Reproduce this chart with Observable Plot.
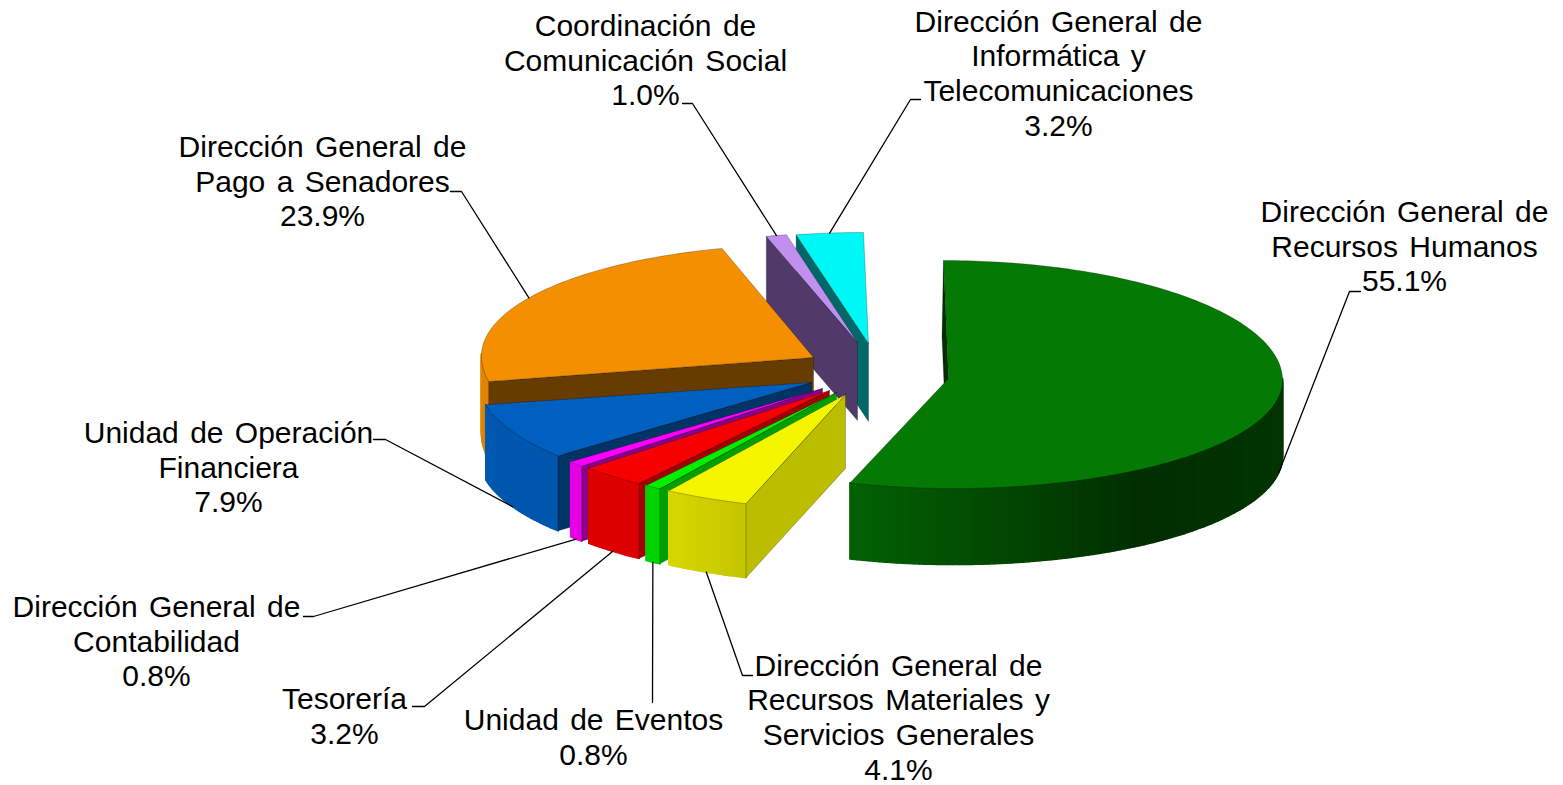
<!DOCTYPE html>
<html><head><meta charset="utf-8">
<script src="https://cdn.jsdelivr.net/npm/d3@7"></script>
<script src="https://cdn.jsdelivr.net/npm/@observablehq/plot@0.6"></script>
<style>html,body{margin:0;background:#fff}svg{display:block}text{word-spacing:3px}</style>
</head><body><div id="chart"></div>
<script>
// Data
const names = ["Dirección General de\nRecursos Humanos","Dirección General de\nRecursos Materiales y\nServicios Generales","Unidad de Eventos","Tesorería","Dirección General de\nContabilidad","Unidad de Operación\nFinanciera","Dirección General de\nPago a Senadores","Coordinación de\nComunicación Social","Dirección General de\nInformática y\nTelecomunicaciones"];
const shares = [55.1,4.1,0.8,3.2,0.8,7.9,23.9,1.0,3.2];
const topColors = ["#047a04","#f5f500","#00ee00","#f70000","#ff00ff","#0060c0","#f49000","#c090f0","#00f8f8"];
const wallColors = ["#003000","#bdbd00","#00a000","#a30000","#8b008b","#003366","#663c00","#513a69","#006868"];

// Layout of the exploded 3D pie (one entry per slice)
const apexX = [948,845,836,829,822,811,813,857,868];
const apexY = [378,394,392,390,388,382,357,342,343];
const radiusRight = [334,331,331,331,331,333,332,331,338];
const radiusLeft = [328,331,331,331,331,333,332,331,338];
const radiusBack = [118,115,115,115,115,115,113,110,111];
const radiusFront = [110,115,115,115,115,115,124,115,115];
const depths = [76,74,75,75,75,75,78,78,78];
const wallLean = [-1.5,0,0,0,0,0,0,0,0];
const skew = 5;
const drawOrder = [8,7,0,6,5,4,3,2,1];
const labelX = [1404,898,593,344,156,228,322,645,1058];
const labelY = [245,716,736,715,640,466,180,59,72];
const elbowX = [1349,742,652,424,313,385,461,692,910];
const elbowY = [291,675,702,706,616,439,191,103,99];
const tailX = [1360,752,652,412,303,373,450,682,920];
const tailY = [291,675,702,706,616,439,191,103,99];

const arcs = d3.pie().sort(null).value(d => d)(shares);
const toDeg = 180 / Math.PI, toRad = Math.PI / 180;
const rimShade = d3.scaleLinear().domain([90,147,198,215,270]).range([.45,.38,.80,.89,.92]);

function rimPoint(i, deg) {
  const a = deg * toRad, s = Math.sin(a), c = Math.cos(a);
  return {
    x: apexX[i] + (s >= 0 ? radiusRight[i] : radiusLeft[i]) * s - skew * c,
    y: apexY[i] - (c >= 0 ? radiusBack[i] : radiusFront[i]) * c
  };
}
function sweep(a0, a1) {
  const out = [];
  for (let d = a0; d < a1; d += 1) out.push(d);
  out.push(a1);
  return out;
}

let pid = 0;
function addPoly(list, pts, fill, stroke) {
  const id = pid++;
  [...pts, pts[0]].forEach(p => list.push({id, x: p.x, y: p.y, fill, stroke}));
}
const sliceMarks = drawOrder.flatMap(i => {
  const a0 = arcs[i].startAngle * toDeg, a1 = arcs[i].endAngle * toDeg;
  const dep = depths[i];
  const rimP = [], topP = [], wallP = [];
  // outer rim, only on the front side, shaded by angle
  const r0 = Math.max(a0, 90), r1 = Math.min(a1, 272);
  if (r1 > r0) {
    const ds = sweep(r0, r1);
    for (let k = 0; k < ds.length - 1; k++) {
      const p = rimPoint(i, ds[k]), q = rimPoint(i, ds[k + 1]);
      const base = d3.rgb(topColors[i]), f = rimShade((ds[k] + ds[k + 1]) / 2);
      const col = d3.rgb(base.r * f, base.g * f, base.b * f).formatHex();
      addPoly(rimP, [p, q, {x: q.x, y: q.y + dep}, {x: p.x, y: p.y + dep}], col, col);
    }
  }
  // visible radial wall
  const st = rimPoint(i, a0), lean = wallLean[i];
  addPoly(wallP, [{x: apexX[i], y: apexY[i]}, st, {x: st.x + lean, y: st.y + dep}, {x: apexX[i] + lean, y: apexY[i] + dep}], wallColors[i], "#000");
  // top face
  addPoly(topP, [{x: apexX[i], y: apexY[i]}, ...sweep(a0, a1).map(d => rimPoint(i, d))], topColors[i], "#000");
  const line = (data, o) => Plot.line(data, {x: "x", y: "y", z: "id", fill: d => d.fill, stroke: d => d.stroke, ...o});
  return [
    line(rimP, {strokeWidth: 1.6, strokeLinejoin: "round"}),
    line(wallP, {strokeWidth: 0.7, strokeOpacity: 0.35}),
    line(topP, {strokeWidth: 0.7, strokeOpacity: 0.35})
  ];
});

const leaders = names.flatMap((n, i) => {
  const mid = (arcs[i].startAngle + arcs[i].endAngle) / 2 * toDeg;
  const p = rimPoint(i, mid);
  const front = Math.cos(mid * toRad) < 0;
  return [
    {id: i, x: p.x, y: p.y + (front ? depths[i] : 0)},
    {id: i, x: elbowX[i], y: elbowY[i]},
    {id: i, x: tailX[i], y: tailY[i]}
  ];
});

const labels = names.map((n, i) => ({
  text: n + "\n" + shares[i].toFixed(1) + "%", x: labelX[i], y: labelY[i]
}));

document.getElementById("chart").append(Plot.plot({
  width: 1563, height: 785, margin: 0,
  x: {domain: [0,1563], range: [0,1563], axis: null},
  y: {domain: [0,785], range: [0,785], axis: null},
  style: {background: "#fff"},
  marks: [
    ...sliceMarks,
    Plot.line(leaders, {x: "x", y: "y", z: "id", stroke: "#000", strokeWidth: 1.3}),
    Plot.text(labels, {x: "x", y: "y", text: "text", fontSize: 30, lineHeight: 1.157, lineAnchor: "middle", textAnchor: "middle", fill: "#000", fontFamily: "Liberation Sans, Arial, sans-serif", stroke: "none"})
  ]
}));
</script>
</body></html>
